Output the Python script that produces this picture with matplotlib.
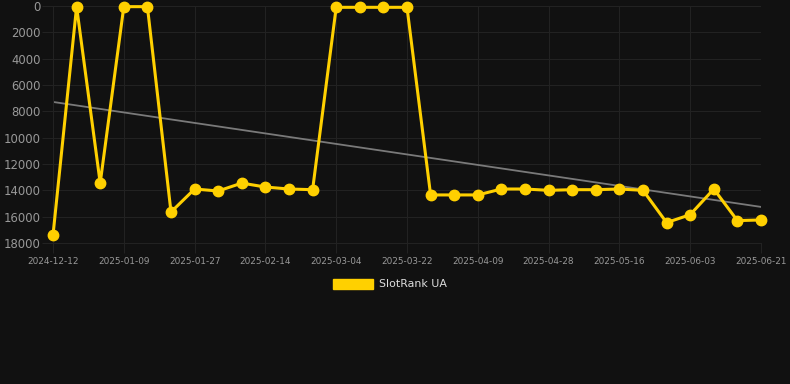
import numpy as np
import matplotlib.pyplot as plt
from matplotlib.patches import Patch

dates = ['2024-12-12', '2024-12-21', '2024-12-31', '2025-01-09', '2025-01-15', '2025-01-21',
         '2025-01-27', '2025-02-02', '2025-02-08', '2025-02-14', '2025-02-20', '2025-02-26',
         '2025-03-04', '2025-03-10', '2025-03-16', '2025-03-22', '2025-03-28', '2025-04-03',
         '2025-04-09', '2025-04-15', '2025-04-22', '2025-04-28', '2025-05-04', '2025-05-10',
         '2025-05-16', '2025-05-22', '2025-05-28', '2025-06-03', '2025-06-09', '2025-06-15',
         '2025-06-21']
rank = [17400, 50, 13450, 50, 50, 15650, 13900, 14050, 13450, 13750, 13900, 13950,
        100, 100, 100, 100, 14350, 14350, 14350, 13900, 13900, 14000, 13950, 13950,
        13900, 14000, 16450, 15850, 13900, 16300, 16250]
yticks = [0, 2000, 4000, 6000, 8000, 10000, 12000, 14000, 16000, 18000]

bg = '#111111'
grid = '#222222'
yellow = '#ffd000'

# linear trend over the series
x = np.arange(len(rank))
coef = np.polyfit(x, rank, 1)

fig = plt.figure(figsize=(7.9, 3.84), dpi=100, facecolor=bg)
ax = fig.add_axes([53/790, 1-243/384, (761-53)/790, (243-6)/384], facecolor=bg)

ax.plot(x, np.polyval(coef, x), color='#7a7a7a', lw=1.3, zorder=2)
ax.plot(x, rank, color=yellow, lw=2.2, marker='o', ms=7.5, zorder=3, clip_on=False)

ax.set_xlim(0, len(rank)-1)
ax.set_ylim(18000, 0)
ax.set_yticks(yticks)
ax.set_xticks(x[::3])
ax.set_xticklabels(dates[::3])
ax.grid(True, color=grid, lw=0.8)
ax.tick_params(axis='y', colors=grid, labelcolor='#999999', labelsize=8.4, length=8, pad=1)
ax.tick_params(axis='x', colors=grid, labelcolor='#999999', labelsize=6.4, length=7, pad=3)
for s in ['top', 'right']:
    ax.spines[s].set_visible(False)
for s in ['left', 'bottom']:
    ax.spines[s].set_color(grid)

fig.legend(handles=[Patch(facecolor=yellow, edgecolor=yellow)], labels=['SlotRank UA'],
           loc='center', bbox_to_anchor=(0.494, 1-284/384), frameon=False,
           labelcolor='#dddddd', fontsize=7.9, handlelength=3.6, handleheight=1.1,
           handletextpad=0.6)

fig.savefig('out.png', dpi=100, facecolor=bg)
